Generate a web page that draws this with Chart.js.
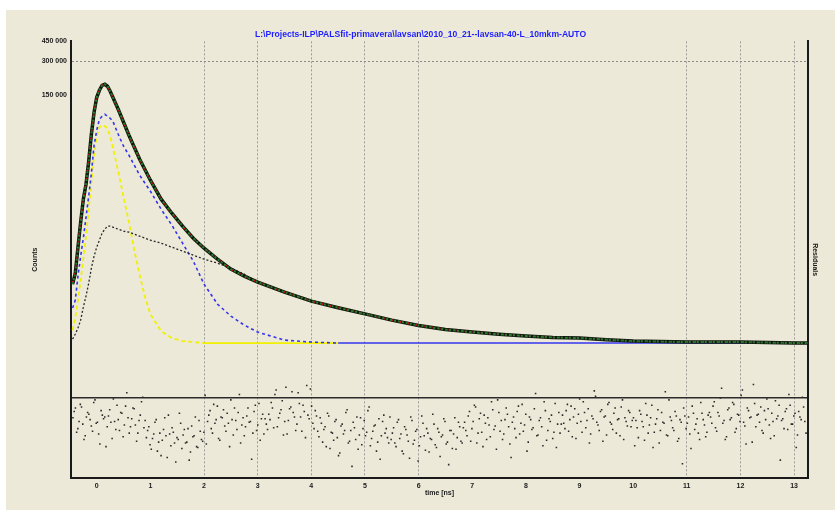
<!DOCTYPE html>
<html>
<head>
<meta charset="utf-8">
<script src="https://cdn.jsdelivr.net/npm/chart.js@4.4.0/dist/chart.umd.min.js"></script>
<style>
  html, body { margin: 0; padding: 0; background: #fff; overflow: hidden; }
  canvas { display: block; }
</style>
</head>
<body>
<canvas id="chart" width="835" height="510"></canvas>
<script>
// time axis [ns] shared by the spectrum and its components
var times = [-0.45, -0.4, -0.35, -0.3, -0.25, -0.2, -0.15, -0.1, -0.05, 0, 0.05, 0.1, 0.15, 0.2, 0.25, 0.3,
    0.4, 0.5, 0.6, 0.7, 0.8, 0.9, 1.0, 1.2, 1.4, 1.6, 1.8, 2.0, 2.25, 2.5, 2.75, 3.0, 3.5, 4.0, 4.5,
    5, 5.5, 6, 6.5, 7, 7.5, 8, 8.5, 9, 9.5, 10, 10.5, 11, 11.5, 12, 12.5, 13, 13.25];

var background = 983;

var measured = [3250, 4070, 6890, 11440, 18250, 24740, 39440, 68200, 106600, 144500, 166500, 184300, 188100,
    180600, 163200, 144500, 113300, 87000, 66830, 52400, 41080, 33130, 26820, 18250, 13730, 10550, 8270, 6750,
    5400, 4410, 3825, 3388, 2765, 2304, 2015, 1777, 1567, 1407, 1295, 1228, 1175, 1133, 1103, 1088, 1053, 1023,
    1013, 1003, 1003, 1003, 993, 983, 983];

var fit = [3400, 4300, 7100, 11900, 18800, 25600, 40500, 69500, 108000, 144500, 166500, 184300, 188100,
    180600, 163200, 144500, 113300, 87000, 66830, 52400, 41080, 33130, 26820, 18250, 13730, 10550, 8270, 6750,
    5400, 4410, 3825, 3388, 2765, 2304, 2015, 1777, 1567, 1407, 1295, 1228, 1175, 1133, 1103, 1088, 1053, 1023,
    1013, 1003, 1003, 1003, 993, 983, 983];

var compBlue = [2000, 2351, 3825, 5741, 8270, 12660, 19390, 30920, 54560, 73980, 92470, 98260, 102300, 98260,
    94350, 88800, 68200, 53460, 44550, 36370, 29690, 25240, 21460, 14890, 10770, 7470, 5186, 3252, 2168, 1700,
    1416, 1228, 1044, 1003, 983, 983, 983, 983, 983, 983, 983, 983, 983, 983, 983, 983, 983, 983, 983, 983,
    983, 983, 983];

var compYellow = [1279, 1632, 2351, 3527, 5512, 8611, 14600, 25760, 44550, 65500, 78620, 81870, 80230, 77040,
    65500, 52400, 32190, 19000, 11440, 6483, 3904, 2498, 1770, 1253, 1088, 1023, 1003, 983, 983, 983, 983, 983,
    983, 983, 983];

var compBlack = [1066, 1180, 1332, 1567, 2040, 2550, 3319, 4500, 5741, 6889, 7943, 9154, 9926, 10550, 10550,
    10330, 9926, 9532, 9341, 8970, 8611, 8270, 7943, 7470, 6889, 6353, 5857, 5400, 4981, 4500, 3984, 3350, 2740,
    2290, 2000, 1765, 1560, 1400, 1290, 1222, 1170, 1128, 1100, 1084, 1050, 1020, 1010, 1000, 998, 996, 990,
    982, 982];

// residuals (in sigma), even channels, left to right
var residualsEven = [
    0.8, 1.9, -0.4, 2.3, 0.1, -1.2, 1.4, 0.6, -0.7, 2.8, 0.3, -2.1, 1.1, 0.9, -0.2, 1.7, -1.5, 0.4, 2.2, -0.6,
    1.3, 0.0, 3.6, -0.9, 0.7, 1.8, -1.8, 0.5, 2.6, -0.3,
    -1.4, -0.2, -2.7, -1.0, 0.6, -1.9, -3.4, -0.5, -1.2, 1.1, -2.3, -0.8, -4.1, -1.6, 0.2, -1.1, -2.0, -0.4,
    -3.0, -1.3, 0.9, -2.5, -0.7, -1.8, 3.3,
    0.4, 1.6, -0.9, 0.2, 2.1, -1.7, 0.8, -0.1, 1.3, -2.4, 0.6, 1.9, -0.5, 3.4, 0.0, -1.2, 1.0, 0.3, -3.8, 1.5,
    -0.6, 2.4, 0.7, -1.0, 0.1,
    1.2, 2.5, -0.3, 3.9, 0.8, 1.7, -1.1, 4.2, 0.5, 2.0, 1.4, -0.6, 3.6, 0.9, 2.2, -1.4, 1.1, 4.0, 0.2, 1.6,
    -0.7, 0.8, -1.9, -0.2, 1.3, -2.6, -0.9, 0.4, -1.4, -3.1, 0.1, -0.6, 1.7, -1.8, -4.6, -0.3, 0.9, -1.1, -2.2,
    0.5, -0.8, 2.0, -1.5, -0.1, -2.9, 0.7, -1.2, 1.1, -0.4, -2.0,
    -1.6, -0.3, -2.4, 0.6, -1.0, -3.2, -0.5, -1.8, 0.9, -2.1, -0.7, -4.0, -1.3, 0.2, -2.8, -0.9, -1.5, 1.2, -2.2,
    -0.4, -3.5, -1.1, 0.4, -1.9, -0.6, -2.6, 0.8, -1.4, -0.2, -2.0,
    0.3, -1.2, 1.5, -0.4, 2.2, -2.0, 0.7, -0.8, 1.1, -1.6, 0.0, 2.6, -0.5, -2.7, 1.4, 0.5, -1.0, 1.9, -0.2, -3.6,
    0.9, -1.4, 2.1, 0.2, -0.7, 1.2, -1.9, 0.6, -0.3, 3.5, -1.1, 0.8, -2.3, 1.6, -0.6, 0.4, -1.5, 2.4, 0.1, -0.9,
    1.1, -0.4, 2.3, 0.6, -1.3, 1.8, 0.2, 2.9, -0.8, 1.4, 0.5, -2.0, 1.0, 3.8, 0.3, -0.6, 1.7, 0.9, -1.1, 2.5,
    0.1, 1.3, -0.9, 0.7, 2.0, -1.6, 0.4, 1.6, -0.2, 0.8,
    0.5, -1.4, 1.2, -0.2, 2.4, -0.9, 0.8, -2.5, 0.1, 1.7, -0.6, 0.3, 3.7, -1.2, 0.9, -0.3, 1.5, -1.8, 0.6, -4.3,
    1.0, 0.2, -1.0, 2.1, -0.5, 0.7, -1.6, 1.3, 0.0, -0.8,
    1.4, 0.2, 2.6, -0.7, 1.0, 4.1, 0.5, -1.3, 1.9, 0.8, 2.3, -0.4, 1.1, 3.3, 0.3, -2.1, 1.6, 0.9, 4.5, -0.2,
    1.2, 2.0, -0.9, 0.6, 1.8, -1.5, 0.4, 2.7, 1.0, -3.9, 0.7, 1.5, -0.5, 2.2, 0.1, 1.3, -1.1, 0.9, 3.1, 0.4
];

// residuals (in sigma), odd channels, left to right
var residualsOdd = [
    1.5, -0.8, 0.4, 2.0, -1.6, 0.9, 1.2, -0.1, 2.5, 0.2, -1.0, 1.6, 0.7, -2.4, 1.0, 0.3, 2.9, -0.5, 0.6, 1.4,
    -1.3, 2.1, 0.8, -0.2, 1.9, 0.0, -0.9, 1.1, 3.1, 0.5,
    -0.6, -2.2, -1.5, 0.3, -2.9, -0.9, -1.7, 0.8, -3.6, -1.0, -0.3, -2.0, -1.4, 1.3, -2.6, -0.5, -1.9, -3.9,
    -0.1, -1.2, -2.4, 0.5, -1.6, -0.8, -2.1,
    1.1, -0.4, 2.3, 0.6, -1.5, 0.9, 1.7, -0.7, 0.2, 2.8, -1.1, 0.5, 1.4, -2.0, 0.8, -0.2, 1.9, 0.4, -0.9, 2.2,
    0.0, -1.7, 1.2, 0.7, -0.5,
    0.6, 1.9, 3.4, -0.2, 1.3, 2.7, 0.4, -1.0, 1.8, 3.7, 0.9, 0.1, 2.4, -0.7, 1.5, 4.4, 0.7, 2.1, -0.4, 1.0,
    -1.3, 0.2, -0.5, -2.4, 1.0, -0.8, -1.7, 0.6, -3.4, -0.1, -1.0, 1.4, -2.0, -0.6, 0.3, -1.6, -2.7, 0.8, -0.4,
    -1.2, 1.6, -2.3, -0.7, 0.0, -1.9, -3.8, 0.4, -0.9, -1.4, 0.9,
    -0.9, -2.0, 0.3, -1.5, -2.9, -0.2, -1.1, -3.7, 0.5, -1.7, -0.5, -2.3, 1.0, -1.2, -0.4, -3.0, -1.6, 0.1, -2.5,
    -0.8, -1.3, 0.7, -2.1, -4.4, -0.6, -1.0, -2.7, 0.3, -1.8, -0.3,
    -0.6, 1.0, -1.8, 0.4, 2.0, -0.9, 1.3, -2.4, 0.2, 0.8, -1.3, 1.7, -0.1, 2.8, -0.7, -1.6, 0.6, 1.2, -2.1, 0.3,
    -0.4, 1.5, -1.0, 2.3, 0.0, -2.9, 0.9, -0.5, 1.8, -1.2, 0.5, -0.2, 2.6, -1.7, 0.7, 1.1, -0.8, -2.5, 1.4, 0.1,
    0.2, 1.6, -0.7, 2.1, 0.9, -1.5, 1.2, 0.4, 2.6, -0.3, 1.8, -1.0, 0.7, 3.2, 0.0, 1.5, -1.8, 1.0, 2.3, 0.3,
    -0.5, 1.9, 0.6, -1.2, 2.8, 0.8, -0.1, 1.4, 0.5, -2.3,
    -0.3, 1.6, 0.4, -1.7, 1.1, 0.0, 2.2, -0.8, 0.7, -2.0, 1.4, 0.2, -1.1, 2.8, 0.5, -0.6, 1.0, -1.5, 0.3, 1.9,
    -0.4, 0.9, -2.6, 1.3, 0.1, -0.9, 2.5, 0.6, -1.3, 1.1,
    0.9, 2.1, -0.3, 1.4, 3.0, 0.2, -1.6, 1.7, 0.6, 2.5, -0.8, 1.2, 0.4, 3.9, -0.1, 1.9, 0.8, -1.9, 2.4, 1.1,
    0.3, -0.6, 1.6, 2.9, 0.0, 1.3, -1.2, 0.7, 2.2, 0.5, -0.4, 1.8, 3.4, 0.1, 1.0, -2.5, 1.5, 0.6, 2.0, -0.9
];

var xTicks = [0, 1, 2, 3, 4, 5, 6, 7, 8, 9, 10, 11, 12, 13];
var xGrid = [2, 3, 4, 5, 6, 11, 12, 13];
var yTicks = [150000, 300000, 450000];
var yGrid = [300000];
var residualLine = 3;

var title = "L:\\Projects-ILP\\PALSfit-primavera\\lavsan\\2010_10_21--lavsan-40-L_10mkm-AUTO";

function pts(values) {
    return values.map(function (v, i) { return { x: times[i], y: v }; });
}

function residualPts() {
    var out = [];
    residualsEven.forEach(function (r, i) {
        out.push({ x: i, y: r });
        if (i < residualsOdd.length) out.push({ x: i + 0.5, y: residualsOdd[i] });
    });
    return out;
}

// flat parts sitting on the background are drawn solid, like the original
function dashUnlessFlat(dash) {
    return function (ctx) {
        return (ctx.p0.parsed.y <= background + 2 && ctx.p1.parsed.y <= background + 2) ? [] : dash;
    };
}

function spaced(v) {
    return String(v).replace(/\B(?=(\d{3})+(?!\d))/g, " ");
}

var backdrop = {
    id: "backdrop",
    beforeDraw: function (chart) {
        var ctx = chart.ctx;
        ctx.save();
        ctx.fillStyle = "#ffffff";
        ctx.fillRect(0, 0, chart.width, chart.height);
        ctx.fillStyle = "#ece9d8";
        ctx.fillRect(6, 10, chart.width - 6, chart.height - 10);
        ctx.restore();
    }
};

Chart.defaults.font.family = "'Liberation Sans', Arial, sans-serif";
Chart.defaults.color = "#1a1a1a";

var small = { size: 7, weight: "bold" };

new Chart(document.getElementById("chart").getContext("2d"), {
    type: "line",
    data: {
        datasets: [
            {
                data: residualPts(),
                xAxisID: "x2", yAxisID: "y2",
                showLine: false, pointRadius: 1.1, pointStyle: "rect",
                pointBackgroundColor: "#2a2a2a", pointBorderWidth: 0
            },
            {
                data: pts(fit), xAxisID: "x", yAxisID: "y",
                borderColor: "#e01818", borderWidth: 2, borderDash: [1, 7], pointRadius: 0
            },
            {
                data: pts(measured), xAxisID: "x", yAxisID: "y",
                borderColor: "#2b7d2b", borderWidth: 2, borderDash: [2, 2], pointRadius: 0
            },
            {
                data: pts(measured), xAxisID: "x", yAxisID: "y",
                borderColor: "#0e160e", borderWidth: 3.5, pointRadius: 0
            },
            {
                data: pts(compBlack), xAxisID: "x", yAxisID: "y",
                borderColor: "#2a2a2a", borderWidth: 1.3, borderDash: [2, 2], pointRadius: 0
            },
            {
                data: pts(compBlue), xAxisID: "x", yAxisID: "y",
                borderColor: "#3434f0", borderWidth: 1.6, borderDash: [3, 3], pointRadius: 0,
                segment: { borderDash: dashUnlessFlat([3, 3]) }
            },
            {
                data: pts(compYellow), xAxisID: "x", yAxisID: "y",
                borderColor: "#f0f000", borderWidth: 1.8, borderDash: [4, 3], pointRadius: 0,
                segment: { borderDash: dashUnlessFlat([4, 3]) }
            }
        ]
    },
    options: {
        responsive: false,
        animation: false,
        events: [],
        layout: { padding: { top: 10, left: 6, right: 0, bottom: 0 } },
        plugins: {
            legend: { display: false },
            tooltip: { enabled: false },
            title: {
                display: true, text: title, color: "#1e1eff",
                font: { size: 8.6, weight: "bold" },
                padding: { top: 19, bottom: 2 }
            }
        },
        scales: {
            x: {
                type: "linear", position: "bottom", min: -0.48, max: 13.26,
                afterBuildTicks: function (scale) {
                    scale.ticks = xTicks.map(function (v) { return { value: v }; });
                },
                afterFit: function (scale) { scale.height = 32; },
                ticks: { font: small, padding: 4, maxRotation: 0 },
                grid: {
                    drawTicks: false,
                    color: function (ctx) {
                        return ctx.tick && xGrid.indexOf(ctx.tick.value) >= 0 ? "#9a9a9a" : "transparent";
                    }
                },
                border: { color: "#1a1a1a", width: 2, dash: [2, 2] },
                title: { display: true, text: "time [ns]", font: small, padding: { top: 0, bottom: 13 } }
            },
            x2: { type: "linear", display: false, min: -0.8, max: residualsEven.length + 0.3 },
            y: {
                type: "logarithmic", position: "left", min: 63.5, max: 450000,
                afterBuildTicks: function (scale) {
                    scale.ticks = yTicks.map(function (v) { return { value: v }; });
                },
                afterFit: function (scale) { scale.width = 65; },
                ticks: { font: small, padding: 4, callback: function (v) { return spaced(v); } },
                grid: {
                    drawTicks: false,
                    color: function (ctx) {
                        return ctx.tick && yGrid.indexOf(ctx.tick.value) >= 0 ? "#8a8a8a" : "transparent";
                    }
                },
                border: { color: "#1a1a1a", width: 2, dash: [2, 2] },
                title: { display: true, text: "Counts", font: small, padding: { top: 25 } }
            },
            y2: {
                type: "linear", position: "right", min: -5.89, max: 42.67,
                afterBuildTicks: function (scale) {
                    scale.ticks = [{ value: residualLine }];
                },
                afterFit: function (scale) { scale.width = 27; },
                ticks: { display: false },
                grid: { drawTicks: false, color: "#2a2a2a", lineWidth: 1.5 },
                border: { color: "#1a1a1a", width: 2 },
                title: { display: true, text: "Residuals", font: small, padding: { top: 16 } }
            }
        }
    },
    plugins: [backdrop]
});
</script>
</body>
</html>
